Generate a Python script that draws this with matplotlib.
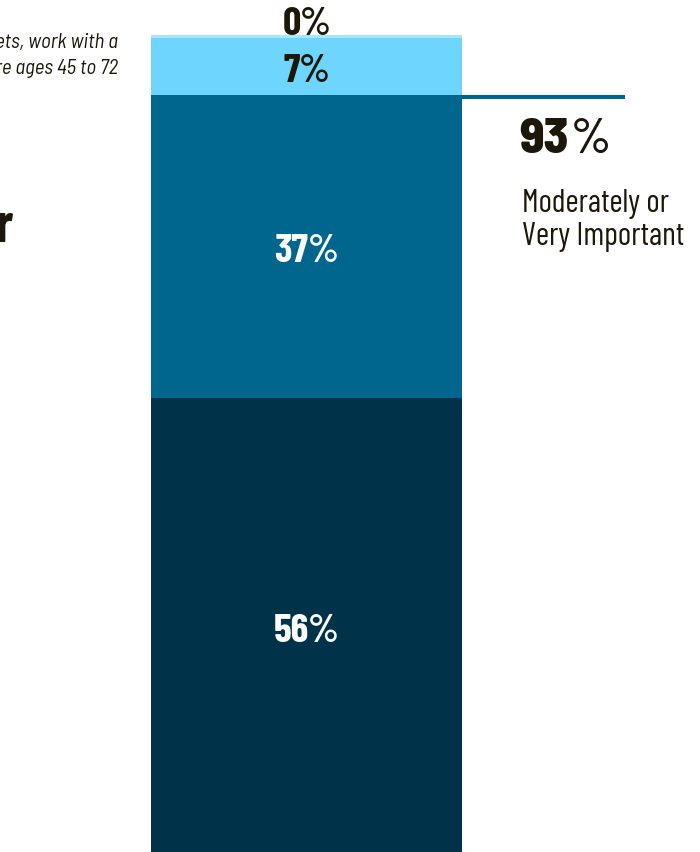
import matplotlib
matplotlib.use("Agg")
import matplotlib.pyplot as plt
from matplotlib.transforms import offset_copy

# Stacked share of respondents, bottom to top
categories = ["Very Important", "Moderately Important", "Slightly Important", "Not Important"]
values = [56, 37, 7, 0.45]
colors = ["#003349", "#00668e", "#6dd5fe", "#a8e6fa"]
label_colors = ["white", "white", "#1c1708", "#1c1708"]
combined_label = ["Moderately or", "Very Important"]

COND = ["Barlow Condensed", "DejaVu Sans"]
SEMI = ["Barlow Semi Condensed", "DejaVu Sans"]
WIDE = ["Barlow", "DejaVu Sans"]
INK = "#1c1708"

W, H, DPI = 700, 853, 100
fig = plt.figure(figsize=(W / DPI, H / DPI), dpi=DPI)
fig.patch.set_facecolor("white")
renderer = fig.canvas.get_renderer()


def pct_text(x, y, value, transform, size, family, color, num_weight, pct_weight,
             align="center", dy=0.0, gap=-1.0, pct_family=None):
    """Number in a heavy weight followed by a lighter percent sign."""
    t1 = fig.text(x, y, f"{value:.0f}", transform=transform, ha="left", va="baseline",
                  fontsize=size, fontweight=num_weight, family=family, color=color)
    t2 = fig.text(x, y, "%", transform=transform, ha="left", va="baseline",
                  fontsize=size, fontweight=pct_weight, family=pct_family or family,
                  color=color)
    w1 = t1.get_window_extent(renderer).width
    w2 = t2.get_window_extent(renderer).width
    start = -(w1 + w2 + gap) / 2 if align == "center" else 0.0
    t1.set_transform(offset_copy(transform, fig=fig, x=start, y=dy, units="dots"))
    t2.set_transform(offset_copy(transform, fig=fig, x=start + w1 + gap, y=dy, units="dots"))


ax = fig.add_axes([151 / W, 0, 311 / W, 1])
ax.set_xlim(-0.5, 0.5)
ax.set_ylim(0.43, 104.8)
ax.axis("off")

bottom = 0.0
for v, c in zip(values, colors):
    ax.bar(0, v, width=1.0, bottom=bottom, color=c, linewidth=0)
    bottom += v

# segment labels; the thin top segment is labelled just above the bar
bottom = 0.0
for v, lc in zip(values, label_colors):
    if v < 2:
        pct_text(0, bottom + v, v, ax.transData, 29, COND, lc, "bold", 600, dy=1)
    else:
        pct_text(0, bottom + v / 2, v, ax.transData, 29, COND, lc, "bold", 600, dy=-14)
    bottom += v

# bracket line marking the combined top-two share
combined = values[0] + values[1]
tr = offset_copy(ax.transData, fig=fig, x=0, y=-2, units="dots")
ax.plot([0.5, 1.024], [combined, combined], color=colors[1], lw=2.9,
        solid_capstyle="butt", clip_on=False, transform=tr)

pct_text(519 / W, 1 - 153 / H, combined, fig.transFigure, 36, SEMI, INK, 800, 500,
         align="left", gap=1, pct_family=WIDE)
fig.text(522 / W, 1 - 212 / H, combined_label[0], ha="left", va="baseline",
         fontsize=23, color=INK, family=COND)
fig.text(522 / W, 1 - 245 / H, combined_label[1], ha="left", va="baseline",
         fontsize=23, color=INK, family=COND)

# cropped intro text and heading on the left
fig.text(118 / W, 1 - 47.5 / H, "Among respondents with assets, work with a", ha="right",
         va="baseline", fontsize=15, style="italic", color=INK, family=SEMI)
fig.text(118 / W, 1 - 73.5 / H, "financial advisor and are ages 45 to 72", ha="right",
         va="baseline", fontsize=15, style="italic", color=INK, family=SEMI)
fig.text(13 / W, 1 - 242 / H, "Importance of Advisor", ha="right", va="baseline",
         fontsize=40, fontweight="bold", color=INK, family=COND)

fig.savefig("out.png", dpi=DPI, facecolor="white")
